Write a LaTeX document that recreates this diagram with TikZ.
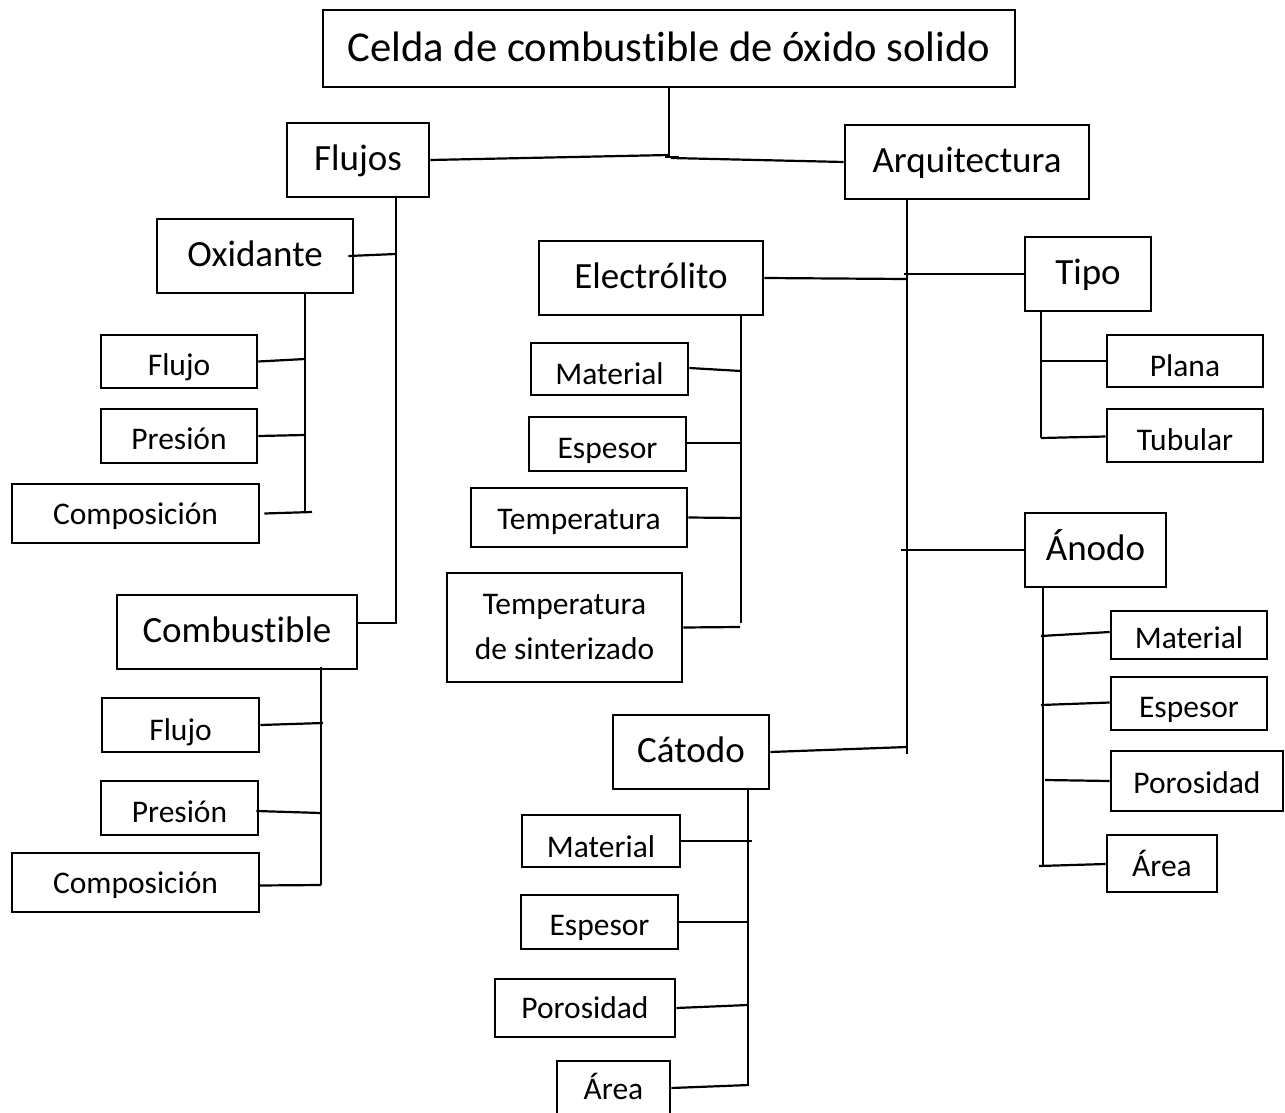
\documentclass[tikz,border=0pt]{standalone}
\usepackage{fontspec}
\setmainfont{Carlito}[Ligatures=NoCommon]
\usetikzlibrary{positioning}

\tikzset{
  box/.style={draw, line width=2.6pt, inner sep=0pt},
  head/.style={box, font=\fontsize{42.6}{51}\selectfont, text height=27pt, text depth=0pt},
  mid/.style={box, font=\fontsize{37}{44}\selectfont, text height=20pt, text depth=0pt},
  leaf/.style={box, font=\fontsize{31.5}{45}\selectfont, text height=28pt, text depth=0pt},
  note/.style={box, font=\fontsize{31.5}{45}\selectfont, align=center},
  link/.style={line width=2.2pt},
}

\begin{document}
\begin{tikzpicture}[x=1pt, y=-1pt]
\useasboundingbox (0,0) rectangle (1285,1113);
\clip (0,0) rectangle (1285,1113);

% main boxes
\node[head, minimum width=692pt, minimum height=77pt] (title) at (669,48.5) {Celda de combustible de óxido solido};
\node[mid, minimum width=142pt, minimum height=74pt] (flujos) at (358,160) {Flujos};
\node[mid, minimum width=244pt, minimum height=74pt] (arq) at (967,162) {Arquitectura};

% Flujos side
\node[mid, minimum width=196pt, minimum height=74pt] (oxid) at (255,256) {Oxidante};
\node[mid, minimum width=240pt, minimum height=74pt] (combust) at (237,632) {Combustible};

\node[leaf, minimum width=156pt, minimum height=53pt, text height=27pt] (oxFlujo) at (179,361.5) {Flujo};
\node[leaf, minimum width=156pt, minimum height=54pt, text height=26pt] (oxPres) at (179,436) {Presión};
\node[leaf, minimum width=247pt, minimum height=59pt, text height=21pt] (oxComp) at (135.5,513.5) {Composición};

\node[leaf, minimum width=157pt, minimum height=54pt, text height=30pt] (cbFlujo) at (180.5,725) {Flujo};
\node[leaf, minimum width=157pt, minimum height=54pt, text height=28pt] (cbPres) at (179.5,808) {Presión};
\node[leaf, minimum width=247pt, minimum height=59pt, text height=21pt] (cbComp) at (135.5,882.5) {Composición};

% Arquitectura side
\node[mid, minimum width=224pt, minimum height=74pt] (electro) at (651,278) {Electrólito};
\node[mid, minimum width=126pt, minimum height=74pt] (tipo) at (1088,274) {Tipo};
\node[mid, minimum width=141pt, minimum height=74pt] (anodo) at (1095.5,550) {Ánodo};
\node[mid, minimum width=156pt, minimum height=74pt] (catodo) at (691,752) {Cátodo};

\node[leaf, minimum width=157pt, minimum height=52pt, text height=30pt] (elMat) at (609.5,369) {Material};
\node[leaf, minimum width=157pt, minimum height=54pt, text height=28pt] (elEsp) at (607.5,444) {Espesor};
\node[leaf, minimum width=216pt, minimum height=59pt, text height=23pt] (elTemp) at (579,517.5) {Temperatura};
\node[note, minimum width=235pt, minimum height=109pt] (elSint) at (564.5,627.5) {Temperatura\\de sinterizado};

\node[leaf, minimum width=156pt, minimum height=52pt, text height=30pt] (tpPlana) at (1185,361) {Plana};
\node[leaf, minimum width=156pt, minimum height=53pt, text height=29pt] (tpTub) at (1185,435.5) {Tubular};

\node[leaf, minimum width=156pt, minimum height=48pt, text height=26pt] (anMat) at (1189,635) {Material};
\node[leaf, minimum width=156pt, minimum height=53pt, text height=27pt] (anEsp) at (1189,703.5) {Espesor};
\node[leaf, minimum width=172pt, minimum height=60pt, text height=25pt] (anPor) at (1197,781) {Porosidad};
\node[leaf, minimum width=110pt, minimum height=57pt, text height=25pt] (anArea) at (1162,863.5) {Área};

\node[leaf, minimum width=158pt, minimum height=52pt, text height=32pt] (caMat) at (601,841) {Material};
\node[leaf, minimum width=157pt, minimum height=54pt, text height=26pt] (caEsp) at (599.5,922) {Espesor};
\node[leaf, minimum width=180pt, minimum height=58pt, text height=20pt] (caPor) at (585,1008) {Porosidad};
\node[leaf, minimum width=113pt, minimum height=60pt, text height=16pt] (caArea) at (613.5,1091) {Área};

% junction points
\coordinate (jTop) at (669,157);
\coordinate (jLeft) at (669,155);
\coordinate (jRight) at (671,158);
\coordinate (fBot) at (396,624);
\coordinate (fOx) at (396,254);
\coordinate (fComb) at (397,623);
\coordinate (oxBot) at (305,513);
\coordinate (cbBot) at (321,885);
\coordinate (aBot) at (907,754);
\coordinate (elBot) at (741,623);
\coordinate (tpBot) at (1041,438);
\coordinate (anBot) at (1043,866);
\coordinate (caBot) at (748,1086);

% top level
\draw[link] (title.south -| jTop) -- (jTop);
\draw[link] (665,157) -- (679,157);
\draw[link] (flujos.east) -- (jLeft);
\draw[link] (jRight) -- (arq.west);

% Flujos
\draw[link] (flujos.south -| fBot) -- (fBot);
\draw[link] ([xshift=-6pt]oxid.east) -- (fOx);
\draw[link] ([yshift=9pt]combust.east) -- (fComb);

\draw[link] (oxid.south -| oxBot) -- (oxBot);
\draw[link] (oxFlujo.east) -- (305,359);
\draw[link] (oxPres.east) -- (305,435);
\draw[link] ([xshift=4pt]oxComp.east) -- (312,512);

\draw[link] (321,667) -- (cbBot);
\draw[link] (cbFlujo.east) -- (323,723);
\draw[link] ([shift={(-3pt,-3pt)}]cbPres.east) -- (321,813);
\draw[link] ([shift={(-2pt,-3pt)}]cbComp.east) -- (cbBot);

% Arquitectura
\draw[link] (arq.south -| aBot) -- (aBot);
\draw[link] (electro.east) -- (906,279);
\draw[link] (904,274) -- (tipo.west);
\draw[link] (901,550) -- (anodo.west);
\draw[link] (catodo.east) -- (907,747);

\draw[link] (electro.south -| elBot) -- (elBot);
\draw[link] ([yshift=1pt]elMat.east) -- (741,371);
\draw[link] ([yshift=1pt]elEsp.east) -- (741,443);
\draw[link] (elTemp.east) -- (741,518);
\draw[link] (elSint.east) -- (740,627);

\draw[link] (tipo.south -| tpBot) -- (tpBot);
\draw[link] (1041,361) -- (tpPlana.west);
\draw[link] (tpBot) -- ([yshift=-1pt]tpTub.west);

\draw[link] (anodo.south -| anBot) -- (anBot);
\draw[link] (1041,636) -- ([yshift=3pt]anMat.west);
\draw[link] (1041,705) -- ([yshift=1pt]anEsp.west);
\draw[link] (1045,780) -- (anPor.west);
\draw[link] (1039,866) -- ([yshift=-0.5pt]anArea.west);

\draw[link] (catodo.south -| caBot) -- (caBot);
\draw[link] (caMat.east) -- (752,841);
\draw[link] (caEsp.east) -- (748,922);
\draw[link] (caPor.east) -- (748,1005);
\draw[link] ([yshift=3pt]caArea.east) -- (749,1085);
\end{tikzpicture}
\end{document}
